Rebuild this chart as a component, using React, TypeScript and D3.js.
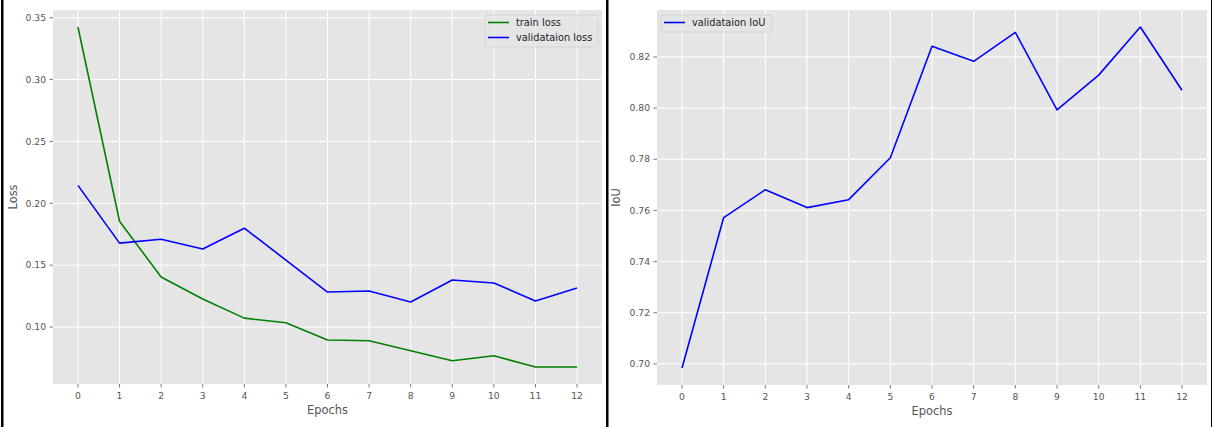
import React from "react";
import * as d3 from "d3";

const W = 1212,
  H = 427;

const epochs = [0, 1, 2, 3, 4, 5, 6, 7, 8, 9, 10, 11, 12];
const trainLoss = [
  0.3425, 0.1855, 0.1404, 0.1226, 0.1072, 0.1034, 0.0895, 0.0889, 0.0809,
  0.0728, 0.0768, 0.0677, 0.0677,
];
const valLoss = [
  0.2145, 0.1678, 0.171, 0.163, 0.1799, 0.1541, 0.1283, 0.1291, 0.1203, 0.138,
  0.1356, 0.1211, 0.1315,
];
const valIoU = [
  0.6984, 0.7572, 0.7681, 0.7611, 0.7642, 0.7806, 0.8242, 0.8183, 0.8296,
  0.7993, 0.8129, 0.8317, 0.807,
];
const lossTicks = [0.1, 0.15, 0.2, 0.25, 0.3, 0.35];
const iouTicks = [0.7, 0.72, 0.74, 0.76, 0.78, 0.8, 0.82];

const BG = "#E5E5E5";
const TXT = "#555555";
const FONT = "DejaVu Sans, sans-serif";

type Series = { name: string; values: number[]; color: string };

// matplotlib-like 5% padding around the data range
function padded(vals: number[]): [number, number] {
  const [lo, hi] = d3.extent(vals) as [number, number];
  const m = (hi - lo) * 0.05;
  return [lo - m, hi + m];
}

function Panel(props: {
  left: number;
  right: number;
  top: number;
  bottom: number;
  series: Series[];
  yTicks: number[];
  yLabel: string;
  yLabelX: number;
  legend: { x: number; y: number; w: number };
}) {
  const { left, right, top, bottom, series, yTicks, yLabel, yLabelX, legend } =
    props;
  const x = d3.scaleLinear().domain([-0.6, 12.6]).range([left, right]);
  const y = d3
    .scaleLinear()
    .domain(padded(series.flatMap((s) => s.values)))
    .range([bottom, top]);
  const line = d3
    .line<number>()
    .x((_, i) => x(epochs[i]))
    .y((d) => y(d));
  const fmt = d3.format(".2f");
  const rowH = 15;
  const legH = series.length * rowH + 2;

  return (
    <g>
      <rect x={left} y={top} width={right - left} height={bottom - top} fill={BG} />
      {epochs.map((e) => (
        <line key={"gx" + e} x1={x(e)} x2={x(e)} y1={top} y2={bottom} stroke="#fff" strokeWidth={1} />
      ))}
      {yTicks.map((t) => (
        <line key={"gy" + t} x1={left} x2={right} y1={y(t)} y2={y(t)} stroke="#fff" strokeWidth={1} />
      ))}
      {series.map((s) => (
        <path key={s.name} d={line(s.values) || ""} fill="none" stroke={s.color} strokeWidth={1.6} strokeLinejoin="round" />
      ))}
      {/* x axis */}
      {epochs.map((e) => (
        <g key={"xt" + e}>
          <line x1={x(e)} x2={x(e)} y1={bottom} y2={bottom + 3.5} stroke={TXT} strokeWidth={0.8} />
          <text x={x(e)} y={bottom + 15} textAnchor="middle" fontSize={9.2} fill={TXT} fontFamily={FONT}>
            {e}
          </text>
        </g>
      ))}
      {/* y axis */}
      {yTicks.map((t) => (
        <g key={"yt" + t}>
          <line x1={left - 3.5} x2={left} y1={y(t)} y2={y(t)} stroke={TXT} strokeWidth={0.8} />
          <text x={left - 7} y={y(t)} dy="0.35em" textAnchor="end" fontSize={9.2} fill={TXT} fontFamily={FONT}>
            {fmt(t)}
          </text>
        </g>
      ))}
      <text x={(left + right) / 2} y={bottom + 30} textAnchor="middle" fontSize={11.4} fill={TXT} fontFamily={FONT}>
        Epochs
      </text>
      <text
        transform={`translate(${yLabelX},${(top + bottom) / 2}) rotate(-90)`}
        textAnchor="middle"
        dy="0.35em"
        fontSize={11.4}
        fill={TXT}
        fontFamily={FONT}
      >
        {yLabel}
      </text>
      {/* legend */}
      <rect
        x={legend.x}
        y={legend.y}
        width={legend.w}
        height={legH}
        rx={2}
        fill={BG}
        fillOpacity={0.8}
        stroke="#cccccc"
        strokeOpacity={0.8}
        strokeWidth={0.8}
      />
      {series.map((s, i) => {
        const ly = legend.y + 7.5 + i * rowH;
        return (
          <g key={"lg" + s.name}>
            <line x1={legend.x + 3} x2={legend.x + 24} y1={ly} y2={ly} stroke={s.color} strokeWidth={1.6} />
            <text x={legend.x + 31} y={ly} dy="0.35em" fontSize={9.8} fill="#222" fontFamily={FONT}>
              {s.name}
            </text>
          </g>
        );
      })}
    </g>
  );
}

export default function App() {
  return (
    <svg
      width={W}
      height={H}
      style={{ position: "absolute", left: 0, top: 0, background: "#fff" }}
    >
      <rect x={0} y={0} width={W} height={H} fill="#fff" />
      <Panel
        left={53}
        right={602}
        top={10}
        bottom={384}
        series={[
          { name: "train loss", values: trainLoss, color: "#008000" },
          { name: "validataion loss", values: valLoss, color: "#0000FF" },
        ]}
        yTicks={lossTicks}
        yLabel="Loss"
        yLabelX={13}
        legend={{ x: 485, y: 15, w: 113 }}
      />
      <Panel
        left={657}
        right={1207}
        top={10}
        bottom={385}
        series={[{ name: "validataion IoU", values: valIoU, color: "#0000FF" }]}
        yTicks={iouTicks}
        yLabel="IoU"
        yLabelX={616}
        legend={{ x: 661, y: 15, w: 111 }}
      />
      <rect x={1} y={0} width={2.5} height={H} fill="#000" />
      <rect x={606} y={0} width={2.5} height={H} fill="#000" />
      <rect x={1211} y={0} width={1} height={H} fill="#000" />
    </svg>
  );
}
